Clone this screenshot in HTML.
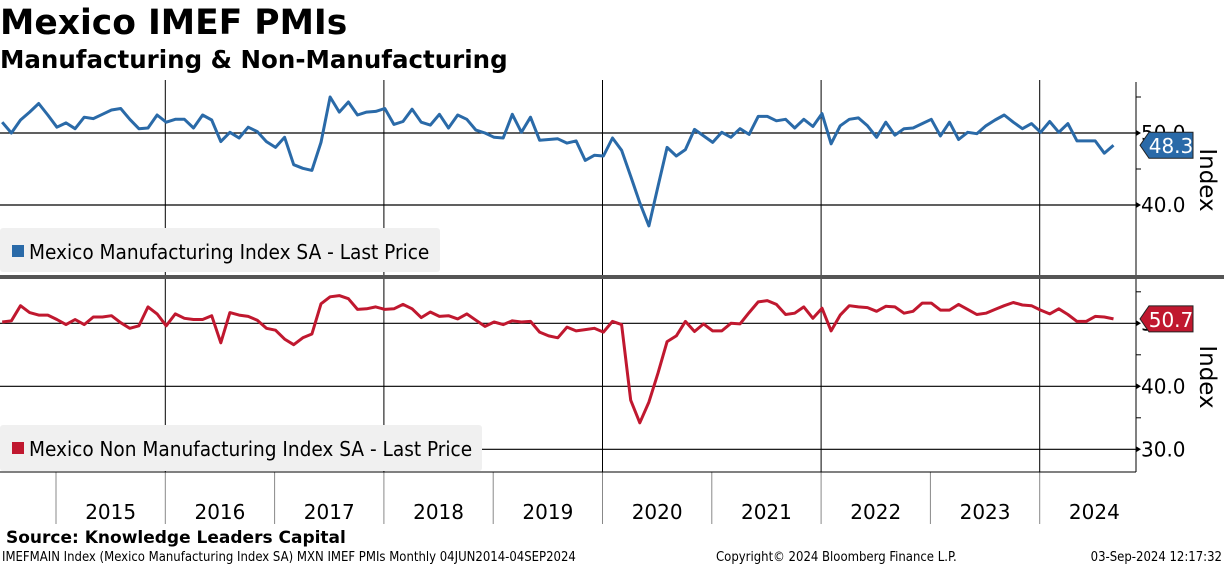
<!DOCTYPE html>
<html><head><meta charset="utf-8"><style>
body{margin:0;background:#fff;width:1224px;height:566px;overflow:hidden;font-family:"Liberation Sans",sans-serif}
svg{position:absolute;left:0;top:0}
</style></head><body>
<svg id="c" width="1224" height="566" viewBox="0 0 1224 566">
<text x="0" y="34" font-size="34.5" font-weight="bold" font-family="DejaVu Sans, sans-serif">Mexico IMEF PMIs</text>
<text x="0" y="68" font-size="24.5" font-weight="bold" font-family="DejaVu Sans, sans-serif">Manufacturing &amp; Non-Manufacturing</text>
<g id="grid"></g>
<rect x="0" y="228" width="440" height="44" rx="3" fill="#f0f0f0"/>
<rect x="0" y="425" width="482" height="46" rx="3" fill="#f0f0f0"/>
<g id="marks"></g>
<rect x="12" y="245" width="12" height="12" fill="#2a6aa8"/>
<text x="29" y="259" font-size="20.6" font-family="DejaVu Sans Condensed, DejaVu Sans, sans-serif">Mexico Manufacturing Index SA - Last Price</text>
<rect x="12" y="442" width="12" height="12" fill="#c0182f"/>
<text x="29" y="456" font-size="20.6" font-family="DejaVu Sans Condensed, DejaVu Sans, sans-serif">Mexico Non Manufacturing Index SA - Last Price</text>
<rect x="0" y="275" width="1224" height="4" fill="#555"/>
<text transform="translate(1200,180) rotate(90)" text-anchor="middle" font-size="23" font-family="DejaVu Sans, sans-serif">Index</text>
<text transform="translate(1200,377) rotate(90)" text-anchor="middle" font-size="23" font-family="DejaVu Sans, sans-serif">Index</text>
<text x="6" y="543" font-size="17" font-weight="bold" font-family="DejaVu Sans, sans-serif">Source: Knowledge Leaders Capital</text>
<text x="2" y="561" font-size="13" font-family="DejaVu Sans Condensed, DejaVu Sans, sans-serif">IMEFMAIN Index (Mexico Manufacturing Index SA) MXN IMEF PMIs  Monthly 04JUN2014-04SEP2024</text>
<text x="716" y="561" font-size="13" font-family="DejaVu Sans Condensed, DejaVu Sans, sans-serif">Copyright© 2024 Bloomberg Finance L.P.</text>
<text x="1222" y="561" text-anchor="end" font-size="13" font-family="DejaVu Sans Condensed, DejaVu Sans, sans-serif">03-Sep-2024 12:17:32</text>
</svg>
<script>
const years=[2015,2016,2017,2018,2019,2020,2021,2022,2023,2024];
const startMonth=-7; // Jun 2014 relative to Jan 2015
const manufacturing=[51.5,50.0,51.8,52.9,54.1,52.5,50.8,51.4,50.6,52.2,52.0,52.6,53.2,53.4,51.9,50.6,50.7,52.5,51.5,51.9,51.9,50.7,52.5,51.8,48.8,50.1,49.3,50.8,50.2,48.8,48.0,49.4,45.6,45.1,44.8,48.7,55.0,52.9,54.3,52.5,52.9,53.0,53.4,51.2,51.6,53.3,51.5,51.1,52.6,50.7,52.5,51.9,50.4,50.0,49.4,49.3,52.6,50.1,52.2,49.0,49.1,49.2,48.6,48.9,46.2,46.9,
46.8,49.3,47.6,44.0,40.3,37.1,42.6,48.0,46.8,47.7,50.5,49.6,48.7,50.1,49.4,50.6,49.8,52.3,52.3,51.7,51.9,50.7,51.9,50.9,52.7,48.5,51.0,51.9,52.1,51.0,49.4,51.5,49.7,50.6,50.7,51.3,51.9,49.6,51.5,49.1,50.1,49.9,51.0,51.8,52.5,51.5,50.6,51.3,50.1,51.6,50.1,51.3,48.9,48.9,48.9,47.2,48.3];
const nonManufacturing=[50.2,50.4,52.8,51.7,51.3,51.3,50.6,49.8,50.6,49.8,51.0,51.0,51.2,50.1,49.2,49.6,52.6,51.5,49.6,51.5,50.8,50.6,50.6,51.2,46.9,51.7,51.3,51.1,50.5,49.2,48.9,47.5,46.6,47.7,48.3,53.1,54.2,54.4,53.9,52.2,52.3,52.6,52.2,52.3,53.0,52.3,50.9,51.8,51.1,51.2,50.7,51.5,50.5,49.5,50.2,49.8,50.4,50.2,50.3,48.6,48.0,47.7,49.4,48.8,49.0,49.2,
48.6,50.3,49.8,37.8,34.2,37.5,42.1,47.1,48.0,50.3,48.7,49.9,48.8,48.8,50.0,49.9,51.7,53.4,53.6,53.0,51.4,51.6,52.6,50.8,52.4,48.8,51.3,52.8,52.6,52.5,51.9,52.7,52.6,51.6,51.9,53.2,53.2,52.1,52.1,53.0,52.2,51.4,51.6,52.2,52.8,53.3,52.9,52.8,52.1,51.5,52.3,51.4,50.3,50.3,51.1,51.0,50.7];
const topTicks=[40,50];
const topMinor=[45,55];
const botTicks=[30,40,50];
const botMinor=[35,45,55];
const NS='http://www.w3.org/2000/svg';
const X0=56,YW=109.3,AX=1136;
const xYear=y=>X0+(y-2015)*YW;
const xMonth=i=>X0+10+i*YW/12;
const yTop=v=>133-(v-50)*7.2;
const yBot=v=>323.3-(v-50)*6.3;
function mk(tag,attrs,parent){const e=document.createElementNS(NS,tag);for(const k in attrs)e.setAttribute(k,attrs[k]);parent.appendChild(e);return e;}
const grid=document.getElementById('grid'),marks=document.getElementById('marks');
years.forEach((y,k)=>{
  const x=xYear(y);
  if(k%2===1){let l=mk('line',{x1:x,x2:x,y1:80,y2:472,stroke:'#000','stroke-width':1},grid);
  
  }
  let t=mk('line',{x1:x,x2:x,y1:472,y2:524,stroke:'#888','stroke-width':1},grid);
  
  
  let lb=mk('text',{x:x+YW/2,y:519,'text-anchor':'middle','font-size':20,'font-family':'DejaVu Sans, sans-serif'},grid);
  lb.textContent=y;
  
  
});
mk('line',{x1:AX,x2:AX,y1:82,y2:472,stroke:'#000','stroke-width':1},grid);
mk('line',{x1:0,x2:AX,y1:472,y2:472,stroke:'#000','stroke-width':1},grid);
function hticks(ticks,minor,yf,name){
  ticks.forEach(v=>{
    const y=yf(v);
    let l=mk('line',{x1:0,x2:AX,y1:y,y2:y,stroke:'#000','stroke-width':1.2},grid);
    
    
    mk('path',{d:`M${AX},${y-3}L${AX+5},${y}L${AX},${y+3}Z`,fill:'#000'},grid);
    let t=mk('text',{x:1141,y:y+7,'font-size':20,'font-family':'DejaVu Sans, sans-serif'},grid);
    t.textContent=v.toFixed(1);
    
    
  });
  minor.forEach(v=>{const y=yf(v);mk('line',{x1:AX,x2:AX+5,y1:y,y2:y,stroke:'#000'},grid);});
}
hticks(topTicks,topMinor,yTop,'y-top');
hticks(botTicks,botMinor,yBot,'y-bottom');
function series(data,yf,color,name){
  const pts=data.map((v,i)=>xMonth(startMonth+i).toFixed(1)+','+yf(v).toFixed(1)).join(' ');
  let p=mk('polyline',{points:pts,fill:'none',stroke:color,'stroke-width':3,'stroke-linejoin':'round'},marks);
  
  
  const last=data[data.length-1],y=yf(last);
  let b=mk('path',{d:`M1140,${y}L1149,${y-13}L1193,${y-13}L1193,${y+13}L1149,${y+13}Z`,fill:color,stroke:'#222','stroke-width':1},marks);
  
  
  let t=mk('text',{x:1171,y:y+8,'text-anchor':'middle','font-size':20,fill:'#fff','font-family':'DejaVu Sans, sans-serif'},marks);
  t.textContent=last.toFixed(1);
  
  
}
series(manufacturing,yTop,'#2a6aa8','manufacturing');
series(nonManufacturing,yBot,'#c0182f','nonmanufacturing');
</script>
</body></html>
